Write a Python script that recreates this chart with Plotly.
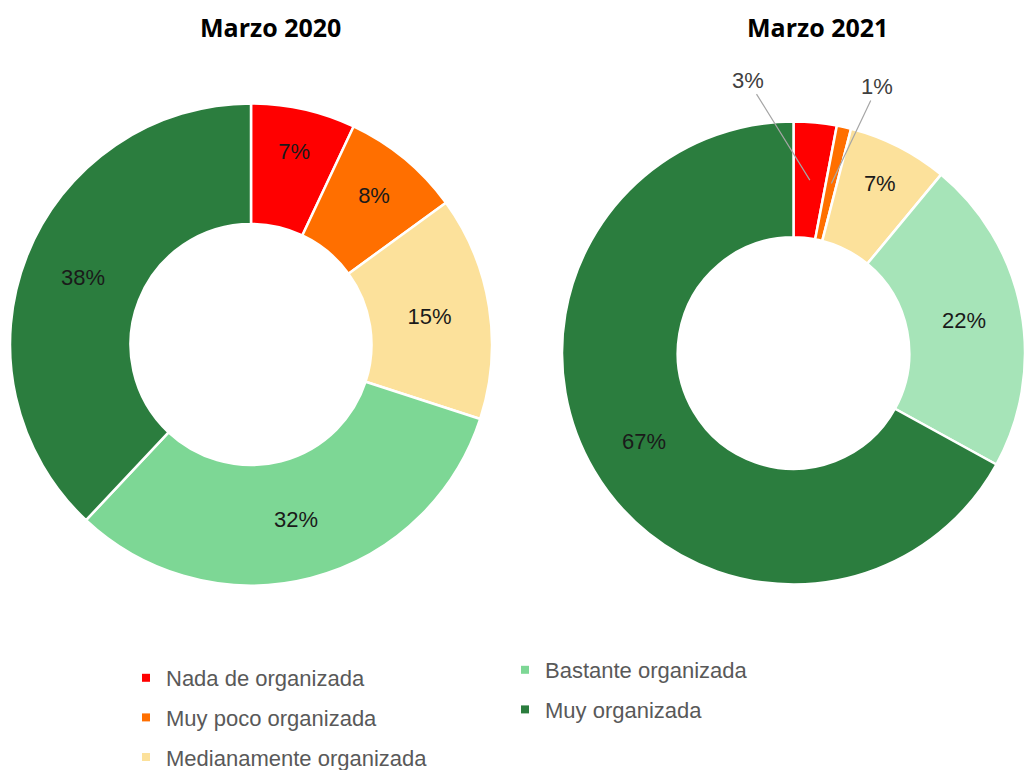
import math
import plotly.graph_objects as go

categories = ["Nada de organizada", "Muy poco organizada", "Medianamente organizada",
              "Bastante organizada", "Muy organizada"]
values_2020 = [7, 8, 15, 32, 38]
values_2021 = [3, 1, 7, 22, 67]
titles = ["Marzo 2020", "Marzo 2021"]

colors_2020 = ["#FF0000", "#FF6F00", "#FCE19B", "#7DD795", "#2B7D3E"]
colors_2021 = ["#FF0000", "#FF6F00", "#FCE19B", "#A6E4B8", "#2B7D3E"]

W, H = 1025, 770
fig = go.Figure()

FONT = "Liberation Sans, Arial, sans-serif"
label_font = dict(family=FONT, size=22, color="#1a1a1a")

dom1 = dict(x=[10 / W, 492 / W], y=[1 - 586 / H, 1 - 103 / H])
dom2 = dict(x=[562 / W, 1.0], y=[1 - 584.5 / H, 1 - 121.5 / H])

fig.add_trace(go.Pie(
    labels=categories, values=values_2020, sort=False, direction="clockwise", rotation=0,
    hole=0.5, marker=dict(colors=colors_2020, line=dict(color="white", width=2.5)),
    texttemplate="%{value}%", textposition="inside", insidetextorientation="horizontal",
    textfont=label_font, showlegend=False, hoverinfo="label+percent", domain=dom1,
))

# small slices of 2021 get outside labels with leader lines (annotations)
small = [v < 5 for v in values_2021]
fig.add_trace(go.Pie(
    labels=categories, values=values_2021, sort=False, direction="clockwise", rotation=0,
    hole=0.5, marker=dict(colors=colors_2021, line=dict(color="white", width=2.5)),
    texttemplate=["" if s else "%{value}%" for s in small],
    textposition=["none" if s else "inside" for s in small],
    insidetextorientation="horizontal",
    textfont=label_font, showlegend=False, hoverinfo="label+percent", domain=dom2,
))

# geometry of pie 2 (in paper pixels) to anchor leader lines on the slices
x0, x1 = dom2["x"][0] * W, dom2["x"][1] * W
y0, y1 = (1 - dom2["y"][1]) * H, (1 - dom2["y"][0]) * H
R = min(x1 - x0, y1 - y0) / 2
cx, cy = (x0 + x1) / 2, (y0 + y1) / 2
total = sum(values_2021)
offsets = {0: (-62, -100), 1: (46, -97)}
annotations = []
cum = 0
for i, v in enumerate(values_2021):
    if small[i]:
        theta = 2 * math.pi * (cum + v / 2) / total
        px = cx + 0.75 * R * math.sin(theta)
        py = cy - 0.75 * R * math.cos(theta)
        ax, ay = offsets[i]
        annotations.append(dict(
            text=f"{v}%", x=px / W, y=1 - py / H, xref="paper", yref="paper",
            showarrow=True, arrowhead=0, arrowwidth=1.2, arrowcolor="#A6A6A6",
            ax=ax, ay=ay, font=dict(family=FONT, size=22, color="#404040"),
        ))
    cum += v

# legend entries (two columns)
for i, (name, col) in enumerate(zip(categories, colors_2020)):
    fig.add_trace(go.Scatter(
        x=[None], y=[None], mode="markers", name=name,
        marker=dict(symbol="square", size=8, color=col),
        legend="legend" if i < 3 else "legend2", legendgroup=name,
    ))

title_font = dict(family="Open Sans, sans-serif", size=25, color="black")
for t, xc in zip(titles, [270, 817]):
    annotations.append(dict(text="<b>" + t + "</b>", x=xc / W, y=1 - 27 / H, xref="paper", yref="paper",
                            xanchor="center", yanchor="middle", showarrow=False, font=title_font))

legend_font = dict(family=FONT, size=22, color="#595959")
fig.update_layout(
    width=W, height=H, margin=dict(l=0, r=0, t=0, b=0, autoexpand=False),
    paper_bgcolor="white", plot_bgcolor="white",
    xaxis=dict(visible=False), yaxis=dict(visible=False),
    legend=dict(x=126 / W, y=1 - 657 / H, xanchor="left", yanchor="top",
                font=legend_font, tracegroupgap=8, bgcolor="rgba(0,0,0,0)"),
    legend2=dict(x=505 / W, y=1 - 649 / H, xanchor="left", yanchor="top",
                 font=legend_font, tracegroupgap=8, bgcolor="rgba(0,0,0,0)"),
    annotations=annotations,
)

fig.write_html("out.html", config={"displayModeBar": False},
               post_script="document.body.style.margin='0';document.body.style.overflow='hidden';")
